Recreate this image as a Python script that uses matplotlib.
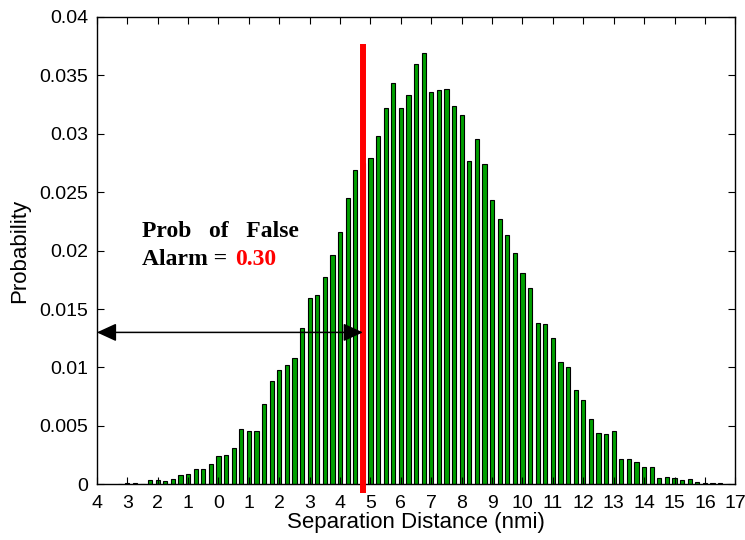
import numpy as np
import matplotlib
matplotlib.use("Agg")
import matplotlib.pyplot as plt

# separation distance bins (nmi), 0.25 wide
bin_start = -3.25
bin_step = 0.25
prob = [0.00005, 0.0001, 0.0001, 0.00005, 0.00036, 0.00038, 0.0003, 0.00044,
        0.00078, 0.00087, 0.0013, 0.0013, 0.00175,
        0.0024, 0.00254, 0.0031, 0.0047, 0.0046, 0.0046, 0.0069, 0.0088,
        0.0098, 0.0102, 0.0108, 0.0134, 0.0159, 0.0162, 0.0177, 0.0196,
        0.0216, 0.0245, 0.0269, 0.0275, 0.0279, 0.0298, 0.0322, 0.0343,
        0.0322, 0.0333, 0.0360, 0.0369, 0.0336, 0.0337, 0.0338, 0.0324,
        0.0316, 0.0277, 0.0295, 0.0274, 0.0243, 0.0227, 0.0213, 0.0198,
        0.0181, 0.0168, 0.0138, 0.0137, 0.0125, 0.0105, 0.0100, 0.0081,
        0.0072, 0.0056, 0.0044, 0.0043, 0.0046, 0.0022, 0.0022, 0.0019,
        0.0015, 0.0015, 0.00053, 0.00066, 0.00053, 0.00036, 0.00044, 0.00024,
        0.0001, 0.0001, 0.0001, 0.00005]
dist = bin_start + bin_step * np.arange(len(prob))

threshold = 4.75
arrow_y = 0.013
xticks = list(range(-4, 18))
xticklabels = [str(abs(t)) for t in xticks]
yticks = [0, 0.005, 0.01, 0.015, 0.02, 0.025, 0.03, 0.035, 0.04]
yticklabels = ['0', '0.005', '0.01', '0.015', '0.02', '0.025', '0.03', '0.035', '0.04']

plt.rcParams['font.family'] = ['Liberation Sans', 'DejaVu Sans']

fig = plt.figure(figsize=(7.45, 5.4), dpi=100)
ax = fig.add_axes([0.130, 0.103, 0.857, 0.866])

ax.bar(dist, prob, width=0.14, color='#00a000', edgecolor='black', linewidth=0.8)

# threshold line
ax.plot([threshold, threshold], [-0.0007, 0.0377], color='red', lw=4.3,
        solid_capstyle='butt', clip_on=False, zorder=5)

# double arrow
ax.annotate('', xy=(-4, arrow_y), xytext=(threshold, arrow_y),
            arrowprops=dict(arrowstyle='<|-|>,head_length=1.2,head_width=0.55',
                            mutation_scale=10, color='black', lw=1.1,
                            shrinkA=0, shrinkB=0), zorder=6)

ax.text(-2.5, 0.0212, 'Prob   of   False', fontfamily='Liberation Serif',
        fontweight='bold', fontsize=17, va='baseline')
ax.text(-2.5, 0.0188, 'Alarm = ', fontfamily='Liberation Serif',
        fontweight='bold', fontsize=17, va='baseline')
ax.text(0.54, 0.0188, '0.30', fontfamily='Liberation Serif',
        fontweight='bold', fontsize=17, va='baseline', color='red')

ax.set_xlim(-4, 17)
ax.set_ylim(0, 0.04)
ax.set_xticks(xticks)
ax.set_xticklabels(xticklabels)
ax.set_yticks(yticks)
ax.set_yticklabels(yticklabels)
ax.tick_params(direction='in', length=5, width=0.8, labelsize=14, pad=6,
               top=True, right=True)
ax.tick_params(axis='x', pad=8)
for s in ax.spines.values():
    s.set_linewidth(1.0)

ax.set_xlabel('Separation Distance (nmi)', fontsize=16, labelpad=0)
ax.set_ylabel('Probability', fontsize=16, labelpad=7)

fig.savefig('out.png', dpi=100)
